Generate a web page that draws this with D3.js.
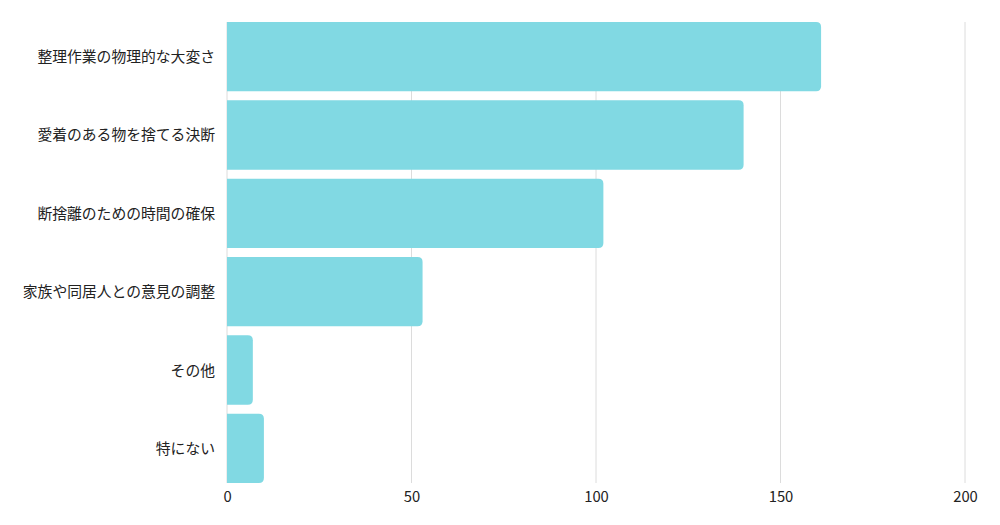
<!DOCTYPE html>
<html><head><meta charset="utf-8">
<script src="https://cdn.jsdelivr.net/npm/d3@7"></script>
<style>body{margin:0;background:#fff;}svg{display:block;font-family:"Noto Sans CJK JP","Noto Sans",sans-serif;}</style>
</head><body><svg id="c" width="1000" height="525"></svg>
<script>
const categories = ["整理作業の物理的な大変さ","愛着のある物を捨てる決断","断捨離のための時間の確保","家族や同居人との意見の調整","その他","特にない"];
const values = [161,140,102,53,7,10];
const ticks = [0,50,100,150,200];

const svg = d3.select("#c");
const m = {left:227, right:35, top:22, bottom:43};
const W = 1000, H = 525;
const x = d3.scaleLinear().domain([0,200]).range([m.left, W-m.right]);
const y = d3.scaleBand().domain(categories).range([m.top, H-m.bottom+1]).paddingInner(0.115).paddingOuter(0);

svg.append("g").selectAll("line").data(ticks).join("line")
  .attr("x1",d=>x(d)).attr("x2",d=>x(d))
  .attr("y1",m.top).attr("y2",H-m.bottom+1)
  .attr("stroke","#dcdcdc").attr("stroke-width",1);

const r = 5;
function barPath(d,i){
  const x0 = x(0), x1 = x(values[i]), y0 = y(d), h = y.bandwidth();
  const rr = Math.min(r, (x1-x0)/2, h/2);
  return `M${x0},${y0}H${x1-rr}Q${x1},${y0} ${x1},${y0+rr}V${y0+h-rr}Q${x1},${y0+h} ${x1-rr},${y0+h}H${x0}Z`;
}
svg.append("g").selectAll("path").data(categories).join("path")
  .attr("d",barPath).attr("fill","#81d9e3");

svg.append("g").selectAll("text").data(categories).join("text")
  .attr("x",m.left-12).attr("y",d=>y(d)+y.bandwidth()/2-1)
  .attr("text-anchor","end").attr("dominant-baseline","central")
  .attr("font-size",14.8).attr("fill","#222").text(d=>d);

const xAxis = d3.axisBottom(x).tickValues(ticks).tickSize(0).tickPadding(0);
const ga = svg.append("g").attr("transform",`translate(0,${H-m.bottom+7})`).call(xAxis);
ga.select(".domain").remove();
ga.selectAll("text").attr("font-size",14.8).attr("fill","#222")
  .attr("font-family",'"Noto Sans CJK JP","Noto Sans",sans-serif').attr("dy","0.9em");
</script></body></html>
